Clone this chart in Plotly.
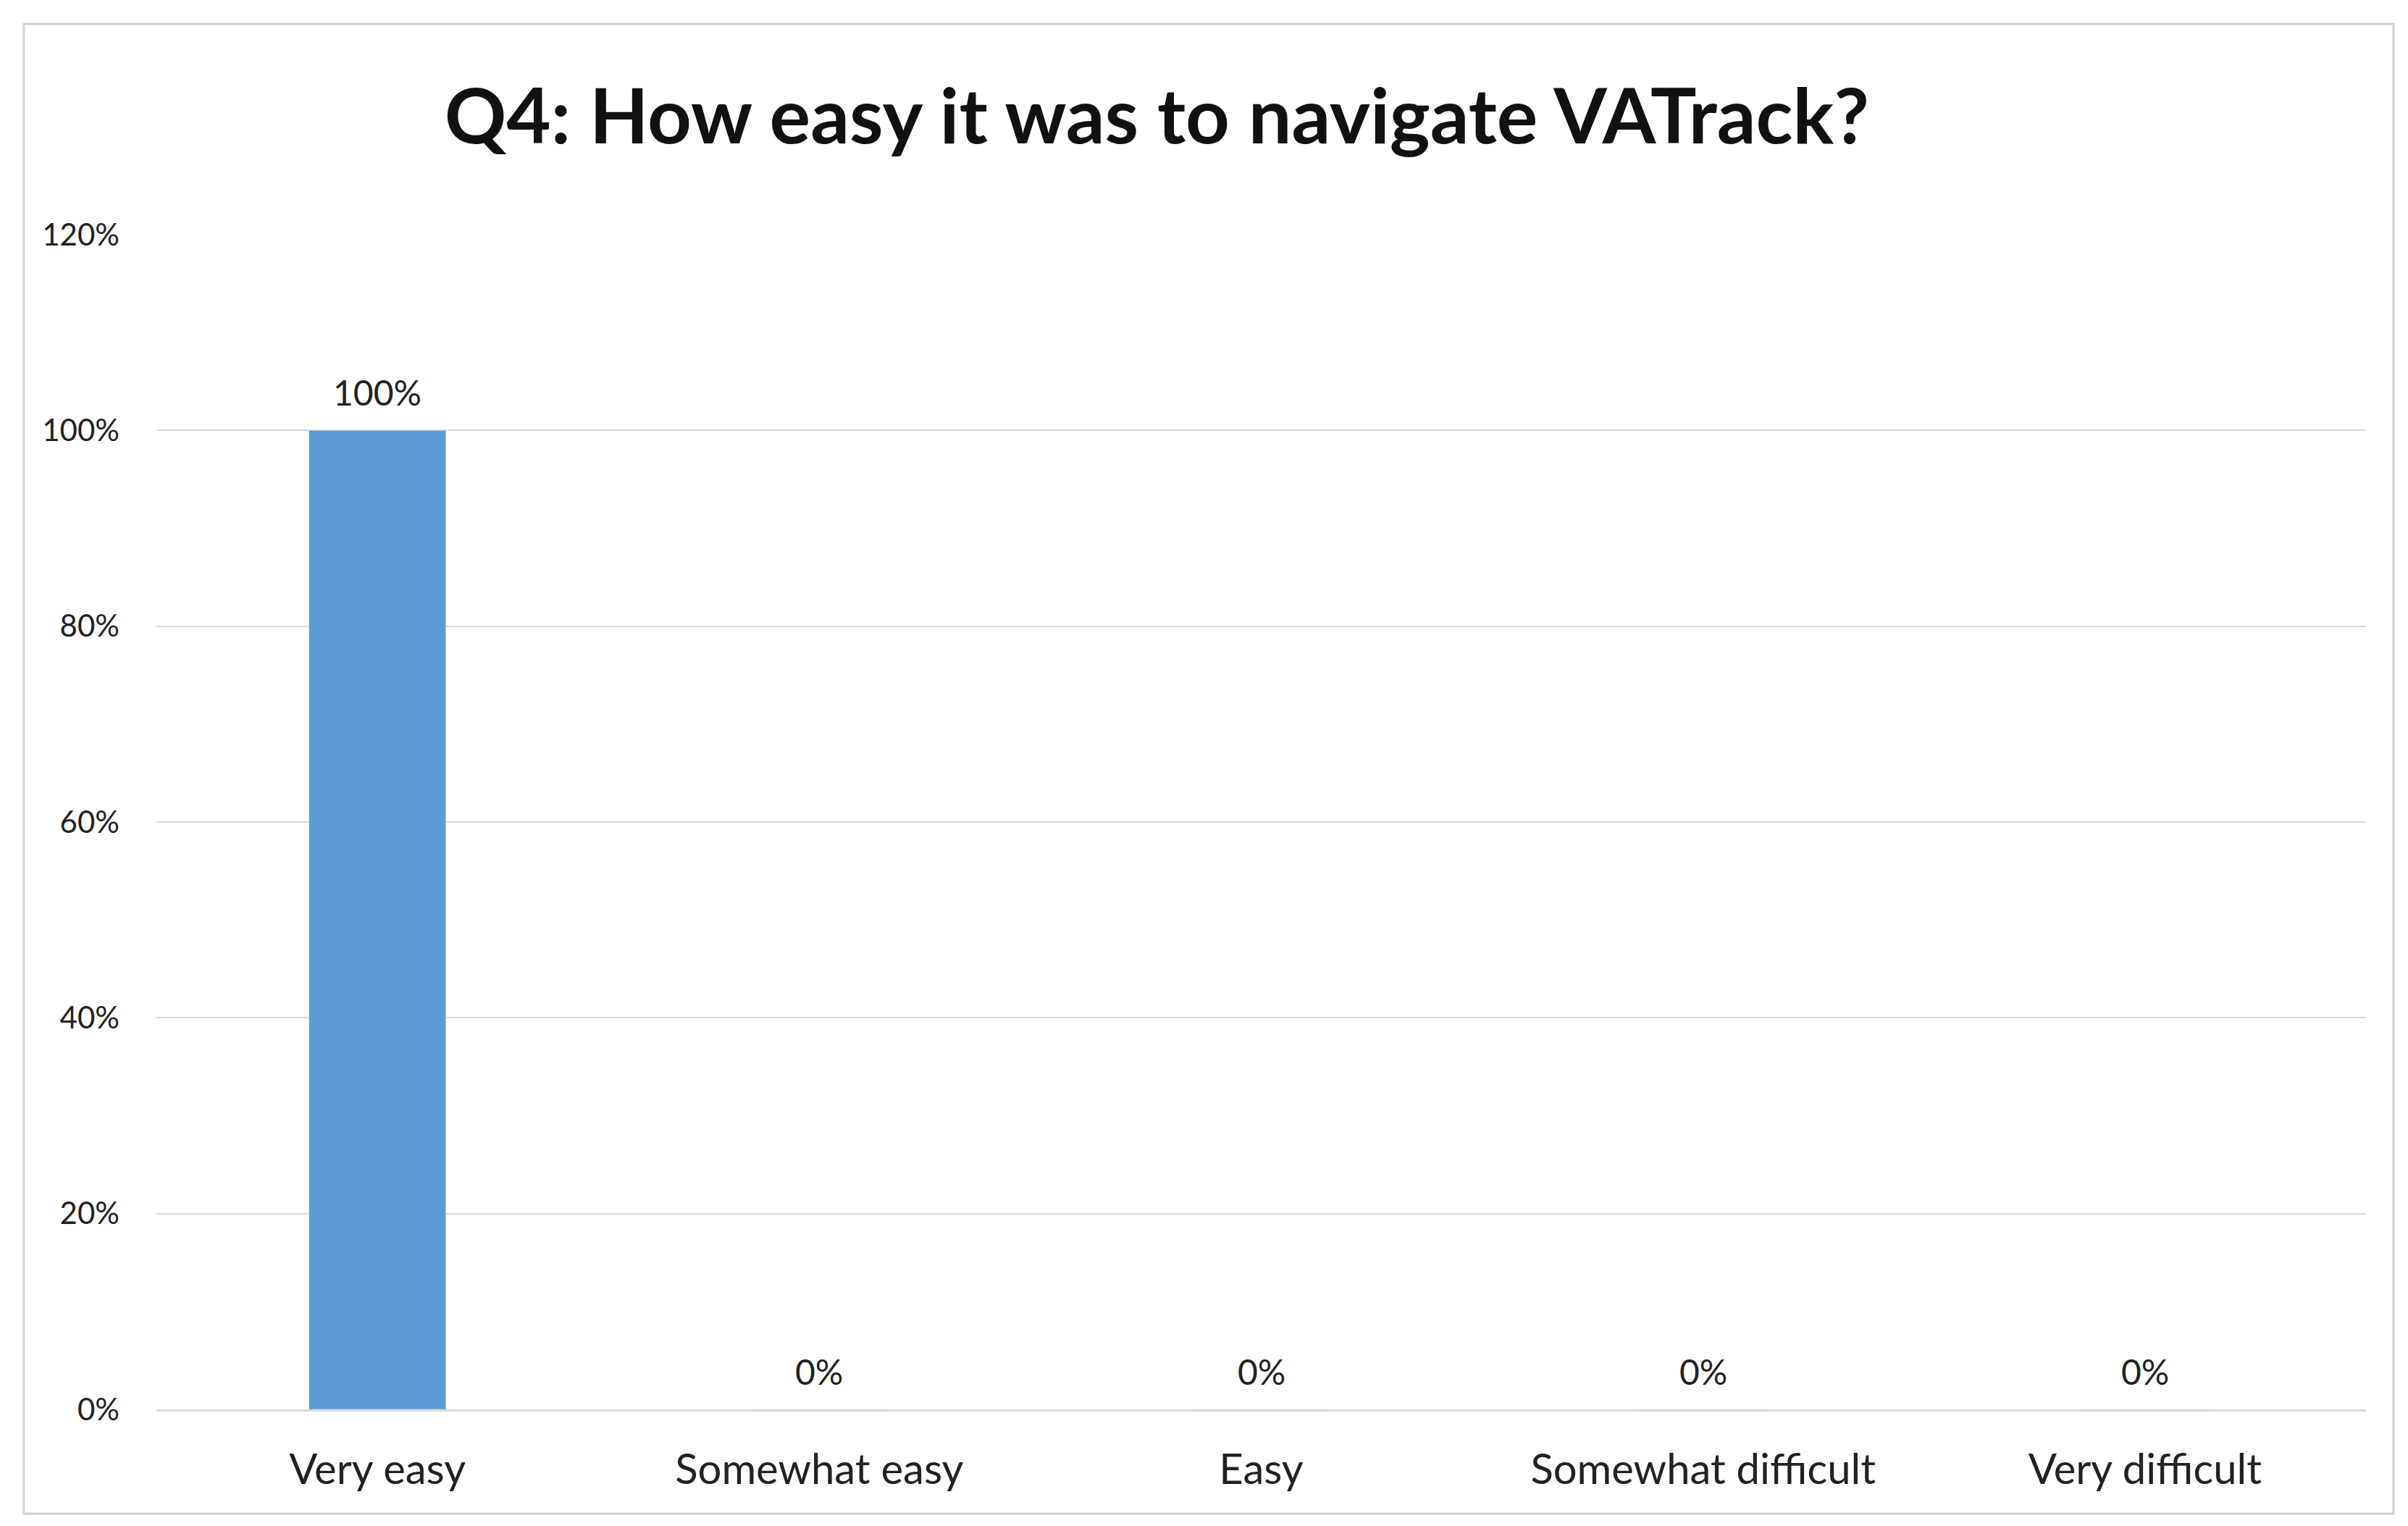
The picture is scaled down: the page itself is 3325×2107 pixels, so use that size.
import plotly.graph_objects as go

categories = ["Very easy", "Somewhat easy", "Easy", "Somewhat difficult", "Very difficult"]
values = [1.0, 0.0, 0.0, 0.0, 0.0]
labels = ["100%", "0%", "0%", "0%", "0%"]
tick_vals = [0, 0.2, 0.4, 0.6, 0.8, 1.0, 1.2]
tick_text = ["0%", "20%", "40%", "60%", "80%", "100%", "120%"]

W, H = 3325, 2107
fig = go.Figure(go.Bar(
    x=categories, y=values, marker_color="#5B9BD5", width=0.31,
))
annotations = [dict(x=c, y=v, text=t, showarrow=False, yanchor="bottom", yshift=22,
                    font=dict(size=48, color="#222"))
               for c, v, t in zip(categories, values, labels)]
fig.update_layout(
    width=W, height=H, paper_bgcolor="white", plot_bgcolor="white",
    font=dict(family="Lato, Open Sans, sans-serif", color="#222"),
    margin=dict(l=208, r=3325 - 3259, t=316, b=2107 - 1938),
    title=dict(text="<b>Q4: How easy it was to navigate VATrack?</b>", x=0.478, xanchor="center",
               y=1 - 153 / H, yanchor="middle", font=dict(size=106, color="#111")),
    showlegend=False,
    annotations=annotations,
    xaxis=dict(tickfont=dict(size=58), showline=True, linecolor="#d9d9d9", linewidth=3, ticks="",
               ticklabelstandoff=30),
    yaxis=dict(range=[0, 1.2], tickvals=tick_vals, ticktext=tick_text, tickfont=dict(size=42),
               gridcolor="#d9d9d9", gridwidth=2, zeroline=False, ticklen=0, ticklabelstandoff=50),
    shapes=[dict(type="rect", xref="paper", yref="paper",
                 x0=(25 - 208) / 3051, x1=(3297 - 208) / 3051,
                 y0=-(2082 - 1938) / 1622, y1=1 + (316 - 25) / 1622,
                 line=dict(color="#d0d0d0", width=3))],
)
fig.write_html("out.html")
